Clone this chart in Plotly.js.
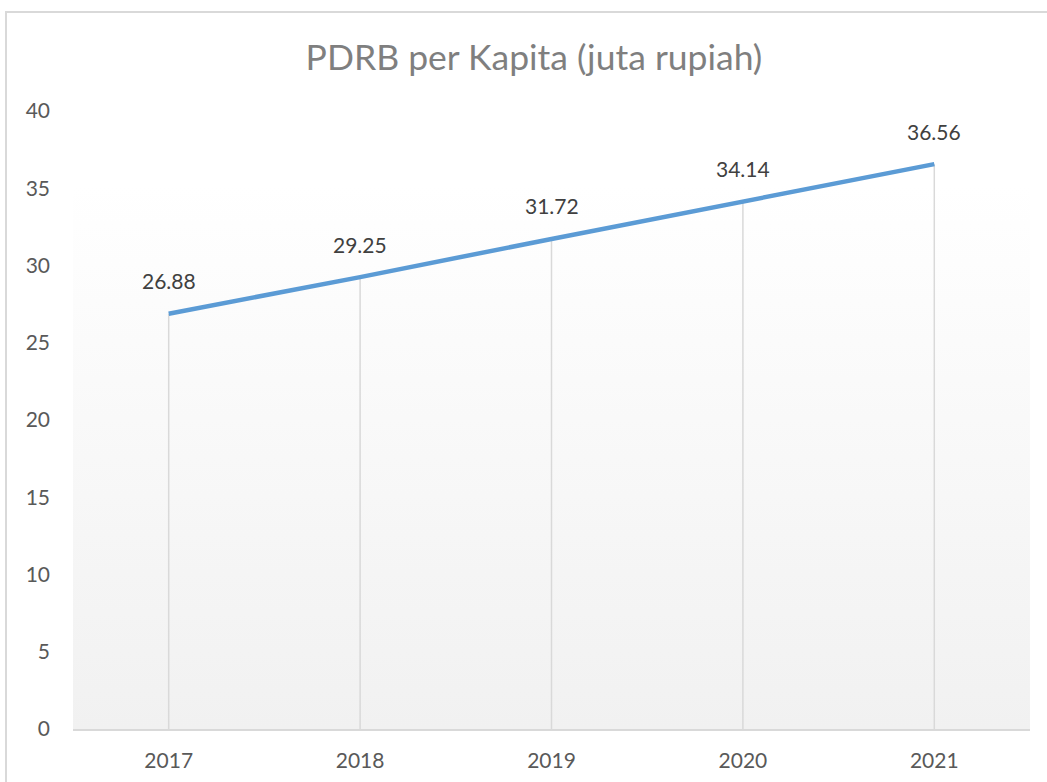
<!DOCTYPE html>
<html>
<head>
<meta charset="utf-8">
<script src="https://cdn.plot.ly/plotly-3.0.1.min.js"></script>
<style>
  html, body { margin: 0; padding: 0; background: #ffffff; }
  #wrap { position: relative; width: 1047px; height: 782px; overflow: hidden; }
  #frame { position: absolute; left: 5px; top: 11px; width: 1100px; height: 900px;
           border: 2px solid #d9d9d9; box-sizing: border-box; }
  #chart { position: absolute; left: 0; top: 0; width: 1047px; height: 782px; }
</style>
</head>
<body>
<div id="wrap">
  <div id="frame"></div>
  <div id="chart"></div>
</div>
<script>
const years = ['2017', '2018', '2019', '2020', '2021'];
const pdrbPerKapita = [26.88, 29.25, 31.72, 34.14, 36.56];
const yTicks = [0, 5, 10, 15, 20, 25, 30, 35, 40];
const chartTitle = 'PDRB per Kapita (juta rupiah)';

const FONT = 'Lato, "Open Sans", sans-serif';

const gradSvg = '<svg xmlns="http://www.w3.org/2000/svg" width="100" height="100" preserveAspectRatio="none">' +
  '<defs><linearGradient id="g" x1="0" y1="0" x2="0" y2="1">' +
  '<stop offset="0" stop-color="#ffffff"/><stop offset="0.12" stop-color="#ffffff"/>' +
  '<stop offset="1" stop-color="#f1f1f1"/></linearGradient></defs>' +
  '<rect width="100" height="100" fill="url(#g)"/></svg>';
const gradUri = 'data:image/svg+xml;base64,' + btoa(gradSvg);

const trace = {
  x: years,
  y: pdrbPerKapita,
  type: 'scatter',
  mode: 'lines',
  line: { color: '#5b9bd5', width: 4.5 },
  error_y: {
    type: 'data', symmetric: false,
    array: pdrbPerKapita.map(() => 0),
    arrayminus: pdrbPerKapita,
    color: '#d9d9d9', thickness: 1.5, width: 0
  },
  hoverinfo: 'x+y'
};

// category axis: annotations are placed by category index
const labels = years.map((yr, i) => ({
  x: i, y: pdrbPerKapita[i], xref: 'x', yref: 'y',
  text: pdrbPerKapita[i].toFixed(2),
  showarrow: false, yanchor: 'middle', xanchor: 'center', yshift: 33,
  font: { family: FONT, size: 21, color: '#404040' }
}));

const layout = {
  width: 1047, height: 782,
  margin: { l: 73, r: 17, t: 111, b: 53 },
  paper_bgcolor: 'rgba(0,0,0,0)',
  plot_bgcolor: 'rgba(0,0,0,0)',
  showlegend: false,
  font: { family: FONT, color: '#595959' },
  title: {
    text: chartTitle,
    x: 0.51, xanchor: 'center', y: 0.927, yanchor: 'middle',
    font: { family: FONT, size: 35.5, color: '#7f7f7f' }
  },
  xaxis: {
    type: 'category',
    range: [-0.5, 4.5],
    showgrid: false, zeroline: false,
    showline: true, linecolor: '#d9d9d9', linewidth: 2,
    ticks: '', tickfont: { size: 21, color: '#595959' },
    ticklabelstandoff: 12
  },
  yaxis: {
    range: [0, 40],
    tickvals: yTicks,
    showgrid: false, zeroline: false, showline: false,
    ticks: '', tickfont: { size: 21, color: '#595959' },
    ticklabelstandoff: 22
  },
  annotations: labels,
  images: [{
    source: gradUri, xref: 'paper', yref: 'paper',
    x: 0, y: 1, sizex: 1, sizey: 1, sizing: 'stretch',
    xanchor: 'left', yanchor: 'top', layer: 'below'
  }]
};

Plotly.newPlot('chart', [trace], layout, { displayModeBar: false, staticPlot: true });
</script>
</body>
</html>
